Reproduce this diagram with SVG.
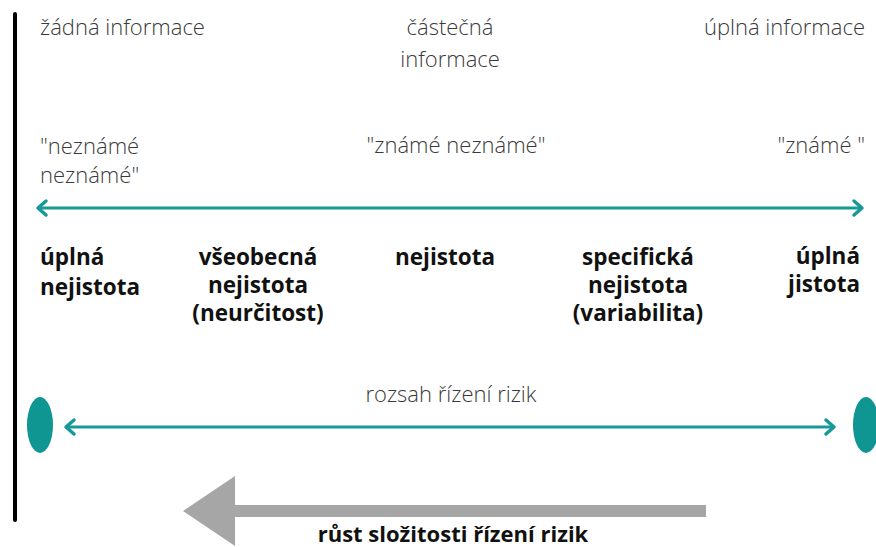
<svg xmlns="http://www.w3.org/2000/svg" width="876" height="547" viewBox="0 0 876 547">
<defs>
<style>
.lt{font-family:"Open Sans","Liberation Sans",sans-serif;font-weight:300;font-size:22px;fill:#3a3a3a}
.bd{font-family:"Open Sans","Liberation Sans",sans-serif;font-weight:700;font-size:22.5px;fill:#111}
.tl{stroke:#17999a;stroke-width:3;fill:none}
.hd{stroke:#17999a;stroke-width:3.5;fill:none;stroke-linecap:round;stroke-linejoin:round}
</style>
</defs>
<rect width="876" height="547" fill="#fff"/>
<g id="axis"><line x1="15" y1="14" x2="15" y2="520" stroke="#000" stroke-width="4" stroke-linecap="round"/></g>
<g id="info-none"><text class="lt" x="40" y="35">žádná informace</text></g>
<g id="info-partial"><text class="lt" x="450" y="35" text-anchor="middle">částečná</text><text class="lt" x="450" y="67" text-anchor="middle">informace</text></g>
<g id="info-full"><text class="lt" x="865" y="35" text-anchor="end">úplná informace</text></g>
<g id="unknown-unknown"><text class="lt" x="40" y="154">"neznámé</text><text class="lt" x="40" y="183">neznámé"</text></g>
<g id="known-unknown"><text class="lt" x="456" y="153" text-anchor="middle">"známé neznámé"</text></g>
<g id="known"><text class="lt" x="865" y="153" text-anchor="end">"známé "</text></g>
<g id="connectors">
<line class="tl" x1="38" y1="208" x2="862" y2="208"/>
<polyline class="hd" points="46,201 38,208 46,215"/>
<polyline class="hd" points="854,201 862,208 854,215"/>
<line class="tl" x1="66" y1="427" x2="834" y2="427"/>
<polyline class="hd" points="74,420 66,427 74,434"/>
<polyline class="hd" points="826,420 834,427 826,434"/>
</g>
<g id="total-uncertainty"><text class="bd" x="40" y="265">úplná</text><text class="bd" x="40" y="295">nejistota</text></g>
<g id="general-uncertainty"><text class="bd" x="258" y="265" text-anchor="middle">všeobecná</text><text class="bd" x="258" y="293" text-anchor="middle">nejistota</text><text class="bd" x="258" y="321" text-anchor="middle">(neurčitost)</text></g>
<g id="uncertainty"><text class="bd" x="445" y="265" text-anchor="middle">nejistota</text></g>
<g id="specific-uncertainty"><text class="bd" x="638" y="265" text-anchor="middle">specifická</text><text class="bd" x="638" y="293" text-anchor="middle">nejistota</text><text class="bd" x="638" y="321" text-anchor="middle">(variabilita)</text></g>
<g id="total-certainty"><text class="bd" x="860" y="264" text-anchor="end">úplná</text><text class="bd" x="860" y="292" text-anchor="end">jistota</text></g>
<g id="scope"><text class="lt" x="451" y="402" text-anchor="middle">rozsah řízení rizik</text></g>
<g id="left-dot"><ellipse cx="40" cy="425" rx="13" ry="28" fill="#0f9693"/></g>
<g id="right-dot"><ellipse cx="866" cy="425" rx="13" ry="28" fill="#0f9693"/></g>
<g id="complexity">
<polygon points="706,505 235,505 235,476 183,511 235,546 235,517 706,517" fill="#a6a6a6"/>
<text class="bd" x="453" y="542" text-anchor="middle" style="font-size:22px">růst složitosti řízení rizik</text>
</g>
</svg>
